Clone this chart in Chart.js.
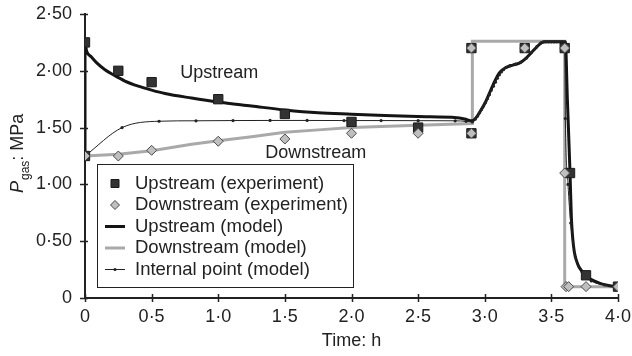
<!DOCTYPE html>
<html>
<head>
<meta charset="utf-8">
<script src="https://cdn.jsdelivr.net/npm/chart.js@4/dist/chart.umd.min.js"></script>
<style>
  html, body { margin: 0; padding: 0; background: #fff; }
  #wrap { position: relative; width: 632px; height: 356px; }
</style>
</head>
<body>
<div id="wrap"><canvas id="chart" width="632" height="356"></canvas></div>
<script>
// experiment points (time in h, pressure in MPa)
const upExpT = [0, 0, 0.25, 0.5, 1.0, 1.5, 2.0, 2.5, 2.9, 2.9, 3.3, 3.6, 3.64, 3.76, 4.0];
const upExpP = [1.25, 2.25, 2.0, 1.9, 1.75, 1.62, 1.55, 1.5, 1.45, 2.2, 2.2, 2.2, 1.1, 0.2, 0.1];
const downExpT = [0, 0.25, 0.5, 1.0, 1.5, 2.0, 2.5, 2.9, 2.9, 3.3, 3.6, 3.6, 3.61, 3.63, 3.76, 4.0];
const downExpP = [1.25, 1.25, 1.3, 1.38, 1.4, 1.45, 1.45, 1.45, 2.2, 2.2, 2.2, 1.1, 0.1, 0.1, 0.1, 0.1];

// model curves
const upModelT = [0, 0, 0.013, 0.05, 0.088, 0.15, 0.213, 0.3, 0.4, 0.5, 0.6, 0.8, 1.0, 1.25, 1.5, 1.75, 2.0, 2.25, 2.5, 2.79,
  2.85, 2.907, 2.93, 2.97, 3.008, 3.045, 3.08, 3.108, 3.14, 3.17, 3.21, 3.26, 3.3, 3.346, 3.39, 3.42, 3.446, 3.605,
  3.62, 3.64, 3.65, 3.667, 3.697, 3.73, 3.77, 3.82, 3.87, 3.93, 4.0];
const upModelP = [1.25, 2.24, 2.17, 2.12, 2.07, 2.01, 1.965, 1.91, 1.865, 1.83, 1.80, 1.76, 1.725, 1.69, 1.655, 1.63, 1.618, 1.607, 1.597, 1.587,
  1.575, 1.56, 1.58, 1.65, 1.73, 1.83, 1.92, 1.98, 2.015, 2.035, 2.05, 2.067, 2.1, 2.155, 2.21, 2.243, 2.255, 2.255,
  1.75, 1.1, 0.71, 0.45, 0.30, 0.235, 0.185, 0.15, 0.127, 0.11, 0.10];

const downModelT = [0, 0.25, 0.5, 0.8, 1.0, 1.25, 1.5, 1.75, 2.0, 2.5, 2.907, 2.907, 3.6, 3.6, 4.0];
const downModelP = [1.25, 1.265, 1.296, 1.353, 1.385, 1.42, 1.46, 1.48, 1.50, 1.52, 1.535, 2.26, 2.26, 0.1, 0.1];

const intModelT = [0, 0.278, 0.556, 0.833, 1.111, 1.389, 1.667, 1.944, 2.222, 2.5, 2.778, 2.86, 2.907, 2.93, 2.945,
  2.96, 2.975, 2.99, 3.005, 3.02, 3.035, 3.05, 3.065, 3.08, 3.095, 3.11, 3.125, 3.14, 3.16, 3.19,
  3.23, 3.27, 3.31, 3.35, 3.39, 3.42, 3.44, 3.46, 3.48, 3.5, 3.52, 3.54, 3.56, 3.58, 3.6,
  3.605, 3.625, 3.645, 3.68, 3.73, 3.8, 3.9, 4.0];
const intModelP = [1.25, 1.50, 1.556, 1.56, 1.562, 1.563, 1.563, 1.562, 1.562, 1.561, 1.56, 1.555, 1.55, 1.575, 1.60,
  1.63, 1.66, 1.69, 1.72, 1.755, 1.79, 1.83, 1.865, 1.90, 1.935, 1.965, 1.99, 2.01, 2.03, 2.045,
  2.058, 2.075, 2.11, 2.16, 2.21, 2.243, 2.252, 2.255, 2.255, 2.255, 2.255, 2.255, 2.255, 2.255, 2.25,
  1.58, 1.0, 0.66, 0.36, 0.23, 0.15, 0.115, 0.10];

const legendOrder = ['Upstream (experiment)', 'Downstream (experiment)', 'Upstream (model)', 'Downstream (model)', 'Internal point (model)'];

const FONT = '"Liberation Sans", Arial, Helvetica, sans-serif';
const TXT = '#222';
Chart.defaults.font.family = FONT;
Chart.defaults.color = TXT;

function pts(t, p) {
  return t.map((x, i) => ({x: x, y: p[i]}));
}
function dotLabel(v, digits) {
  return v === 0 ? '0' : v.toFixed(digits).replace('.', '\u00b7');
}

// tick marks that cross the axis lines
const crossTicks = {
  id: 'crossTicks',
  afterDraw(chart) {
    const {ctx, chartArea: a, scales: {x, y}} = chart;
    ctx.save();
    ctx.strokeStyle = TXT;
    ctx.lineWidth = 1.5;
    ctx.beginPath();
    x.ticks.forEach(t => {
      const px = Math.round(x.getPixelForValue(t.value)) + 0.5;
      ctx.moveTo(px, a.bottom - 4);
      ctx.lineTo(px, a.bottom + 4);
    });
    y.ticks.forEach(t => {
      const py = Math.round(y.getPixelForValue(t.value)) + 0.5;
      ctx.moveTo(a.left - 5, py);
      ctx.lineTo(a.left + 3, py);
    });
    ctx.stroke();
    ctx.restore();
  }
};

// curve names and y axis title with subscript
const labels = {
  id: 'labels',
  afterDraw(chart, args, opts) {
    const {ctx, scales: {x, y}} = chart;
    ctx.save();
    ctx.fillStyle = TXT;
    ctx.font = '18px ' + FONT;
    ctx.textAlign = 'left';
    ctx.textBaseline = 'middle';
    opts.notes.forEach(n => {
      ctx.fillText(n.text, x.getPixelForValue(n.x), y.getPixelForValue(n.y));
    });

    // P_gas: MPa
    ctx.translate(23, 193);
    ctx.rotate(-Math.PI / 2);
    ctx.textBaseline = 'alphabetic';
    let cx = 0;
    ctx.font = 'italic 18px ' + FONT;
    ctx.fillText('P', cx, 0);
    cx += ctx.measureText('P').width + 1;
    ctx.font = '12px ' + FONT;
    ctx.fillText('gas', cx, 6);
    cx += ctx.measureText('gas').width;
    ctx.font = '18px ' + FONT;
    ctx.fillText(': MPa', cx, 0);
    ctx.restore();
  }
};

// boxed legend inside the plot
const boxLegend = {
  id: 'boxLegend',
  afterDraw(chart, args, opts) {
    const {ctx} = chart;
    const b = opts.box;
    ctx.save();
    ctx.fillStyle = '#fff';
    ctx.fillRect(b.x, b.y, b.w, b.h);
    ctx.strokeStyle = TXT;
    ctx.lineWidth = 1;
    ctx.strokeRect(b.x + 0.5, b.y + 0.5, b.w, b.h);
    ctx.font = '18.5px ' + FONT;
    ctx.textBaseline = 'middle';
    legendOrder.forEach((name, i) => {
      const ds = chart.data.datasets.find(d => d.label === name);
      const cy = b.y + 19.5 + i * 21.5;
      const mx = b.x + 18;
      if (ds.showLine) {
        ctx.strokeStyle = ds.borderColor;
        ctx.lineWidth = ds.borderWidth;
        ctx.beginPath();
        ctx.moveTo(mx - 10, cy);
        ctx.lineTo(mx + 10, cy);
        ctx.stroke();
        if (ds.pointRadius > 0) {
          ctx.fillStyle = ds.pointBackgroundColor;
          ctx.beginPath();
          ctx.arc(mx, cy, ds.pointRadius, 0, Math.PI * 2);
          ctx.fill();
        }
      } else {
        ctx.fillStyle = ds.backgroundColor;
        ctx.strokeStyle = ds.borderColor;
        ctx.lineWidth = 1;
        ctx.beginPath();
        if (ds.pointStyle === 'rect') {
          ctx.rect(mx - 4, cy - 4, 8, 8);
        } else {
          ctx.moveTo(mx, cy - 4.5);
          ctx.lineTo(mx + 4.5, cy);
          ctx.lineTo(mx, cy + 4.5);
          ctx.lineTo(mx - 4.5, cy);
          ctx.closePath();
        }
        ctx.fill();
        ctx.stroke();
      }
      ctx.fillStyle = TXT;
      ctx.fillText(name, b.x + 38, cy);
    });
    ctx.restore();
  }
};

new Chart(document.getElementById('chart'), {
  type: 'scatter',
  data: {
    datasets: [
      {
        label: 'Downstream (model)',
        data: pts(downModelT, downModelP),
        showLine: true,
        borderColor: '#a9a9a9',
        borderWidth: 3,
        pointRadius: 0,
        tension: 0,
        order: 5
      },
      {
        label: 'Upstream (model)',
        data: pts(upModelT, upModelP),
        showLine: true,
        borderColor: '#141414',
        borderWidth: 3,
        pointRadius: 0,
        cubicInterpolationMode: 'monotone',
        order: 4
      },
      {
        label: 'Internal point (model)',
        data: pts(intModelT, intModelP),
        showLine: true,
        borderColor: '#222',
        borderWidth: 1,
        pointRadius: 1.6,
        pointBackgroundColor: '#222',
        pointBorderWidth: 0,
        cubicInterpolationMode: 'monotone',
        order: 3
      },
      {
        label: 'Upstream (experiment)',
        data: pts(upExpT, upExpP),
        showLine: false,
        pointStyle: 'rect',
        pointRadius: 6.6,
        backgroundColor: '#333',
        borderColor: '#1a1a1a',
        borderWidth: 1,
        order: 2
      },
      {
        label: 'Downstream (experiment)',
        data: pts(downExpT, downExpP),
        showLine: false,
        pointStyle: 'rectRot',
        pointRadius: 5,
        backgroundColor: '#bfbfbf',
        borderColor: '#4a4a4a',
        borderWidth: 1,
        order: 1
      }
    ]
  },
  options: {
    responsive: false,
    animation: false,
    layout: {padding: {top: 14, right: 14, left: 0, bottom: 0}},
    plugins: {
      legend: {display: false},
      tooltip: {enabled: false},
      labels: {
        notes: [
          {text: 'Upstream', x: 0.714, y: 1.98},
          {text: 'Downstream', x: 1.353, y: 1.276}
        ]
      },
      boxLegend: {box: {x: 97, y: 164, w: 256, h: 123}}
    },
    scales: {
      x: {
        type: 'linear',
        min: 0,
        max: 4,
        afterFit: s => {
          s.height = 58;
          s.paddingLeft = 0;
          s.paddingRight = 0;
        },
        ticks: {
          stepSize: 0.5,
          padding: 8,
          font: {size: 18},
          color: TXT,
          maxRotation: 0,
          callback: v => dotLabel(v, 1)
        },
        grid: {display: false, drawTicks: false},
        border: {display: true, color: TXT, width: 2},
        title: {
          display: true,
          text: 'Time: h',
          font: {size: 18},
          color: TXT,
          padding: {top: 0, bottom: 4}
        }
      },
      y: {
        min: 0,
        max: 2.5,
        afterFit: s => {
          s.width = 85;
          s.paddingTop = 0;
          s.paddingBottom = 0;
        },
        ticks: {
          stepSize: 0.5,
          padding: 13,
          font: {size: 18},
          color: TXT,
          callback: v => dotLabel(v, 2)
        },
        grid: {display: false, drawTicks: false},
        border: {display: true, color: TXT, width: 2}
      }
    }
  },
  plugins: [crossTicks, labels, boxLegend]
});
</script>
</body>
</html>
